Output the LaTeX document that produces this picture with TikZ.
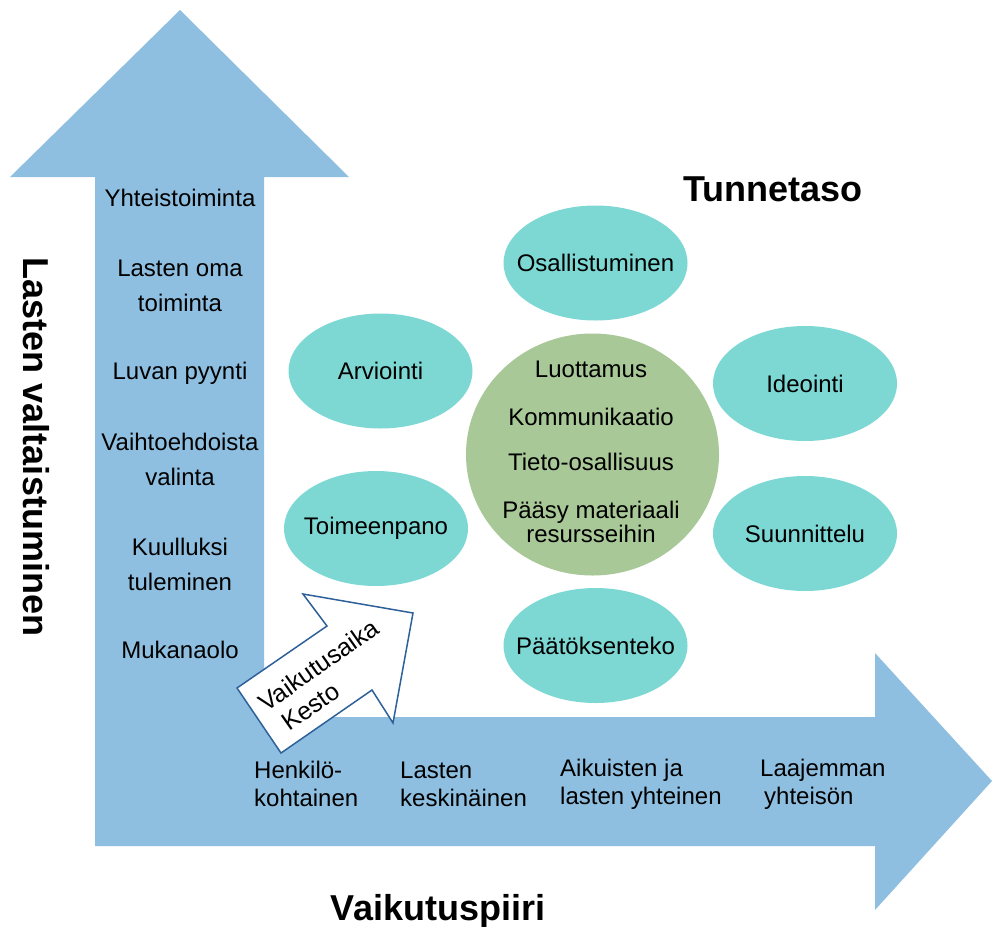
\documentclass[tikz,border=0pt]{standalone}
\usepackage{fontspec}
\setmainfont{Liberation Sans}
\usepackage{xcolor}
\usetikzlibrary{shapes.geometric, positioning}
\definecolor{axisblue}{RGB}{143,191,224}
\definecolor{bubbleteal}{RGB}{125,216,212}
\definecolor{coregreen}{RGB}{168,200,152}
\definecolor{edgeblue}{RGB}{46,97,153}

\begin{document}
\begin{tikzpicture}[x=1pt, y=-1pt,
                    bubble/.style={ellipse, fill=bubbleteal, minimum width=184pt, minimum height=115pt, inner sep=0pt,
                                   label={[inner sep=0pt, font=\fontsize{24}{28}\selectfont]center:#1}},
                    rung/.style={align=center, inner sep=0pt, font=\fontsize{24}{35}\selectfont},
                    reach/.style={align=left, anchor=west, inner sep=0pt, font=\fontsize{24}{28}\selectfont},
                    heading/.style={inner sep=0pt, font=\fontsize{36}{40}\selectfont\bfseries}]
                    \useasboundingbox (0, 0) rectangle (992, 926);

                    \fill[axisblue]
                    (180, 10) -- (349, 177) -- (264, 177) -- (264, 717) -- (875, 717) -- (875, 653)
                    -- (992, 781) -- (875, 910) -- (875, 846) -- (95, 846) -- (95, 177) -- (10, 177) -- cycle;

                    \node[heading, rotate=-90] (valtaistuminen) at (36, 447) {Lasten valtaistuminen};
                    \node[heading] (tunnetaso) at (773, 189) {Tunnetaso};
                    \node[heading] (vaikutuspiiri) at (438, 911) {Vaikutuspiiri};

                    \node[rung] (yhteistoiminta) at (180, 198) {Yhteistoiminta};
                    \node[rung] (omatoiminta) at (180, 285.5) {Lasten oma\\toiminta};
                    \node[rung] (lupa) at (180, 373) {Luvan pyynti};
                    \node[rung] (valinta) at (180, 459.5) {Vaihtoehdoista\\valinta};
                    \node[rung] (kuulluksi) at (180, 564.5) {Kuulluksi\\tuleminen};
                    \node[rung] (mukanaolo) at (180, 650) {Mukanaolo};

                    \node[reach] (henkilo) at (254, 784) {Henkilö-\\kohtainen};
                    \node[reach] (keskinainen) at (400, 784) {Lasten\\keskinäinen};
                    \node[reach] (yhteinen) at (560, 784) {Aikuisten ja\\lasten yhteinen};
                    \node[reach] (yhteiso) at (760, 784) {Laajemman\\\hspace*{4pt}yhteisön};

                    \node[bubble=Osallistuminen] (osallistuminen) at (595.5, 263) {};
                    \node[bubble=Arviointi] (arviointi) at (380.5, 371) {};
                    \node[bubble=Ideointi] (ideointi) at (805, 383.5) {};
                    \node[bubble=Toimeenpano] (toimeenpano) at (376, 528.5) {};
                    \node[bubble=Suunnittelu] (suunnittelu) at (805, 533.5) {};
                    \node[bubble=Päätöksenteko] (paatoksenteko) at (595.5, 645.5) {};

                    \node[ellipse, fill=coregreen, minimum width=253pt, minimum height=242pt] (core) at (592.5, 454.5) {};
                    \node[align=center, inner sep=0pt, font=\fontsize{24}{24}\selectfont] (coretext) at (591, 452)
                    {Luottamus\\[24pt]Kommunikaatio\\[21pt]Tieto-osallisuus\\[24pt]Pääsy materiaali\\resursseihin};

                    \draw[edgeblue, fill=white, line width=1.5pt, line join=miter]
                    (237, 688) -- (327, 626) -- (303, 594) -- (413, 613) -- (393, 723) -- (372, 690) -- (281, 753) -- cycle;
                    \node[rotate=35, align=left, inner sep=0pt, font=\fontsize{25}{29}\selectfont] (kesto) at (327, 677)
                    {Vaikutusaika\\\hspace*{8pt}Kesto};
                \end{tikzpicture}
\end{document}
